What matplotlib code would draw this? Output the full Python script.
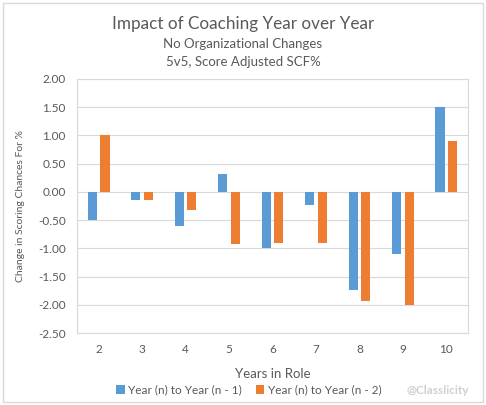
import numpy as np
import matplotlib.pyplot as plt
from matplotlib.patches import Rectangle

plt.rcParams['font.family'] = ['Lato', 'DejaVu Sans']

# data
years = ['2', '3', '4', '5', '6', '7', '8', '9', '10']
prev1 = [-0.50, -0.15, -0.61, 0.32, -1.00, -0.24, -1.74, -1.10, 1.50]
prev2 = [1.00, -0.15, -0.32, -0.92, -0.90, -0.90, -1.93, -2.00, 0.90]

blue = '#5B9BD5'
orange = '#ED7D31'
txt = '#595959'

fig = plt.figure(figsize=(4.86, 4.05), dpi=100)
ax = fig.add_axes([77 / 486, 1 - 333 / 405, 391 / 486, 254 / 405])

x = np.arange(len(years))
w = 0.21
ax.bar(x - 0.145, prev1, w, color=blue, label='Year (n) to Year (n - 1)', zorder=3)
ax.bar(x + 0.145, prev2, w, color=orange, label='Year (n) to Year (n - 2)', zorder=3)

ax.set_xlim(-0.5, len(years) - 0.5)
ax.set_ylim(-2.5, 2.0)
ax.set_yticks(np.arange(-2.5, 2.01, 0.5))
ax.set_yticklabels(['%.2f' % v for v in np.arange(-2.5, 2.01, 0.5)])
ax.set_xticks(x)
ax.set_xticklabels(years)
ax.tick_params(length=0, colors=txt, labelsize=8.5, pad=8)
ax.grid(axis='y', color='#D9D9D9', linewidth=0.8, zorder=0)
for s in ax.spines.values():
    s.set_color('#D9D9D9')
    s.set_linewidth(0.8)

ax.set_xlabel('Years in Role', color=txt, fontsize=9.5, labelpad=9)
ax.yaxis.set_label_coords(-52 / 391, 0.5)
ax.set_ylabel('Change in Scoring Chances For %', color=txt, fontsize=7.5)

fig.text(0.5, 1 - 24 / 405, 'Impact of Coaching Year over Year', ha='center', va='center',
         color=txt, fontsize=12.3)
fig.text(0.5, 1 - 44 / 405, 'No Organizational Changes', ha='center', va='center',
         color=txt, fontsize=9.5)
fig.text(0.5, 1 - 62 / 405, '5v5, Score Adjusted SCF%', ha='center', va='center',
         color=txt, fontsize=9.5)

leg = fig.legend(loc='center', bbox_to_anchor=(249 / 486, 1 - 390 / 405), ncol=2, frameon=False,
                 fontsize=8.5, handlelength=0.7, handleheight=0.7, handletextpad=0.3,
                 columnspacing=1.2)
for t in leg.get_texts():
    t.set_color(txt)

fig.text(438 / 486, 1 - 391 / 405, '@Classlicity', ha='center', va='center',
         color='#D0D0D0', fontsize=8.5, fontweight='bold')

fig.patches.append(Rectangle((3 / 486, 3 / 405), 480 / 486, 399 / 405, transform=fig.transFigure,
                             fill=False, edgecolor='#D9D9D9', linewidth=1))

fig.savefig('out.png', dpi=100)
